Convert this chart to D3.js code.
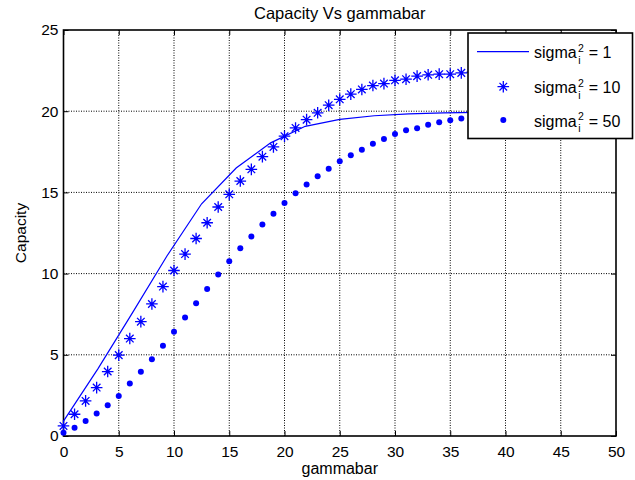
<!DOCTYPE html>
<html>
<head>
<meta charset="utf-8">
<script src="https://cdn.jsdelivr.net/npm/d3@7"></script>
<style>
  body { margin: 0; background: #fff; }
  svg { display: block; }
  text { font-family: "Liberation Sans", Arial, sans-serif; fill: #000; }
</style>
</head>
<body>
<script>
// data
var xTicks = [0, 5, 10, 15, 20, 25, 30, 35, 40, 45, 50];
var yTicks = [0, 5, 10, 15, 20, 25];

// sigma_i^2 = 1 (solid line, points every 50/16)
var lineX = [0, 3.125, 6.25, 9.375, 12.5, 15.625, 18.75, 21.875, 25, 28.125, 31.25, 34.375, 37.5, 40.625, 43.75, 46.875, 50];
var lineY = [0.92, 4.15, 7.6, 11.1, 14.3, 16.5, 18.05, 19.07, 19.5, 19.72, 19.84, 19.9, 19.93, 19.95, 19.96, 19.97, 19.98];

// sigma_i^2 = 10 (stars) and 50 (dots), at gammabar = 0..50
var markX = d3.range(0, 51);
var starY = [0.62, 1.34, 2.16, 2.98, 3.97, 4.98, 6.0, 7.04, 8.13, 9.2,
  10.19, 11.2, 12.16, 13.13, 14.1, 14.88, 15.7, 16.42, 17.2, 17.8,
  18.46, 18.97, 19.48, 19.9, 20.37, 20.73, 21.05, 21.34, 21.58, 21.7,
  21.9, 21.97, 22.16, 22.24, 22.28, 22.28, 22.36, 22.4, 22.42, 22.45,
  22.47, 22.48, 22.5, 22.5, 22.52, 22.52, 22.53, 22.53, 22.54, 22.54, 22.55];
var dotY = [0.2, 0.51, 0.93, 1.38, 1.89, 2.47, 3.23, 3.95, 4.73, 5.56,
  6.42, 7.3, 8.18, 9.05, 9.94, 10.76, 11.56, 12.28, 13.02, 13.68,
  14.35, 14.94, 15.49, 16.0, 16.46, 16.92, 17.28, 17.63, 18.0, 18.29,
  18.6, 18.83, 18.95, 19.17, 19.32, 19.44, 19.55, 19.62, 19.68, 19.73,
  19.77, 19.8, 19.83, 19.85, 19.87, 19.88, 19.9, 19.91, 19.92, 19.93, 19.94];

var legendLabels = ["1", "10", "50"];

var svgWidth = 635, svgHeight = 480;
var margin = { top: 30, right: 19, bottom: 44, left: 63.5 };
var width = svgWidth - margin.left - margin.right;
var height = svgHeight - margin.top - margin.bottom;
var blue = "#0000ff";
var font = "'Liberation Sans', Arial, sans-serif";

var svg = d3.select("body").append("svg")
  .attr("width", svgWidth)
  .attr("height", svgHeight);

var chart = svg.append("g")
  .attr("transform", `translate(${margin.left}, ${margin.top})`);

var x = d3.scaleLinear().domain([0, 50]).range([0, width]);
var y = d3.scaleLinear().domain([0, 25]).range([height, 0]);

// grid
chart.append("g").selectAll("line").data(xTicks.slice(1, -1)).enter().append("line")
  .attr("x1", d => x(d)).attr("x2", d => x(d))
  .attr("y1", 0).attr("y2", height)
  .attr("stroke", "#000").attr("stroke-dasharray", "1,1.5");
chart.append("g").selectAll("line").data(yTicks.slice(1, -1)).enter().append("line")
  .attr("y1", d => y(d)).attr("y2", d => y(d))
  .attr("x1", 0).attr("x2", width)
  .attr("stroke", "#000").attr("stroke-dasharray", "1,1.5");

// axes, ticks pointing inward
var fmt = d3.format("d");
var bottomAxis = d3.axisBottom(x).tickValues(xTicks).tickFormat(fmt).tickSizeInner(-5).tickSizeOuter(0).tickPadding(9.5);
var leftAxis = d3.axisLeft(y).tickValues(yTicks).tickFormat(fmt).tickSizeInner(-5).tickSizeOuter(0).tickPadding(5);
var topAxis = d3.axisTop(x).tickValues(xTicks).tickFormat("").tickSizeInner(-5).tickSizeOuter(0);
var rightAxis = d3.axisRight(y).tickValues(yTicks).tickFormat("").tickSizeInner(-5).tickSizeOuter(0);

chart.append("g").attr("transform", `translate(0, ${height})`).call(bottomAxis);
chart.append("g").call(leftAxis);
chart.append("g").call(topAxis);
chart.append("g").attr("transform", `translate(${width}, 0)`).call(rightAxis);

chart.selectAll(".domain").attr("stroke", "none");
chart.selectAll(".tick line").attr("stroke", "#000");
chart.selectAll(".tick text").attr("font-size", 15.5).attr("fill", "#000")
  .style("font-family", font);

chart.append("rect")
  .attr("width", width).attr("height", height)
  .attr("fill", "none").attr("stroke", "#000").attr("stroke-width", 1.6);

// solid line
var line = d3.line().x((d, i) => x(lineX[i])).y(d => y(d));
chart.append("path").datum(lineY)
  .attr("d", line)
  .attr("fill", "none").attr("stroke", blue).attr("stroke-width", 1.2);

// star marker drawn as + and x
function star(g, cx, cy) {
  var r = 5.8, s = 3.8;
  g.append("path")
    .attr("d", `M${cx - r},${cy}H${cx + r}M${cx},${cy - r}V${cy + r}` +
      `M${cx - s},${cy - s}L${cx + s},${cy + s}M${cx - s},${cy + s}L${cx + s},${cy - s}`)
    .attr("stroke", blue).attr("stroke-width", 1.3).attr("fill", "none");
}

var stars = chart.append("g");
starY.forEach(function(v, i) { star(stars, x(markX[i]), y(v)); });

chart.append("g").selectAll("circle").data(dotY).enter().append("circle")
  .attr("cx", (d, i) => x(markX[i]))
  .attr("cy", d => y(d))
  .attr("r", 3)
  .attr("fill", blue);

// legend
var legend = svg.append("g").attr("transform", "translate(468, 33)");
legend.append("rect")
  .attr("width", 164.5).attr("height", 105.5)
  .attr("fill", "#fff").attr("stroke", "#000").attr("stroke-width", 1.6);

var rowY = [18.7, 53.7, 87];
legendLabels.forEach(function(lab, i) {
  var cy = rowY[i];
  if (i == 0) {
    legend.append("line").attr("x1", 9).attr("x2", 61).attr("y1", cy).attr("y2", cy)
      .attr("stroke", blue).attr("stroke-width", 1.2);
  } else if (i == 1) {
    star(legend, 35.3, cy);
  } else {
    legend.append("circle").attr("cx", 35.3).attr("cy", cy).attr("r", 3).attr("fill", blue);
  }
  // sigma with stacked superscript 2 and subscript i
  var t = legend.append("text").attr("x", 66).attr("y", cy + 6.6).attr("font-size", 16).text("sigma");
  var w = t.node().getComputedTextLength();
  legend.append("text").attr("x", 66 + w + 1.2).attr("y", cy - 0.2).attr("font-size", 10.5).text("2");
  legend.append("text").attr("x", 66 + w + 1.6).attr("y", cy + 12).attr("font-size", 10.5).text("i");
  legend.append("text").attr("x", 66 + w + 12).attr("y", cy + 6.6).attr("font-size", 16).text("= " + lab);
});

// labels
svg.append("text")
  .attr("x", margin.left + width / 2).attr("y", 19)
  .attr("text-anchor", "middle").attr("font-size", 16.5)
  .text("Capacity Vs gammabar");

svg.append("text")
  .attr("x", margin.left + width / 2).attr("y", 474)
  .attr("text-anchor", "middle").attr("font-size", 16)
  .text("gammabar");

svg.append("text")
  .attr("transform", `translate(26, ${margin.top + height / 2}) rotate(-90)`)
  .attr("text-anchor", "middle").attr("font-size", 15.5)
  .text("Capacity");
</script>
</body>
</html>
